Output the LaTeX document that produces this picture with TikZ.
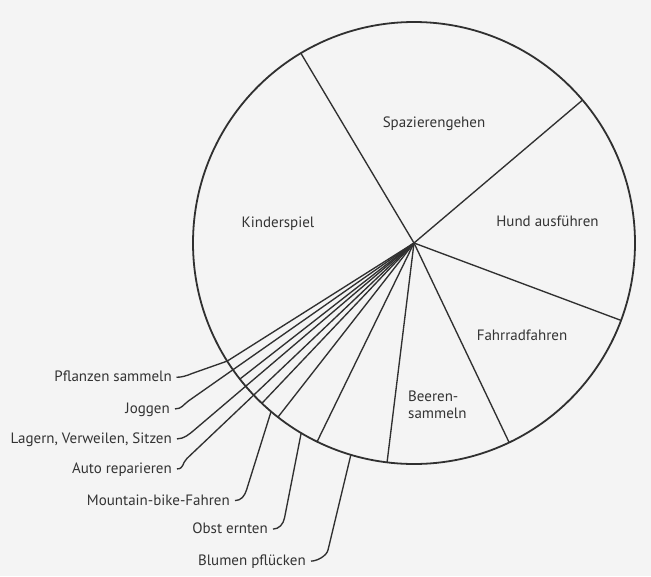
\documentclass[tikz,border=0pt]{standalone}
\usepackage{fontspec}
\setmainfont{PT Sans}
\usetikzlibrary{calc}
\definecolor{ink}{HTML}{303030}
\definecolor{txt}{HTML}{333333}
\definecolor{paper}{HTML}{F4F4F4}
\begin{document}
\begin{tikzpicture}[x=1pt,y=-1pt,
  lbl/.style={text=txt,font=\fontsize{15}{18}\selectfont,inner sep=0pt},
  spoke/.style={draw=ink,line width=1.35pt,line join=round},
  rim/.style={draw=ink,line width=1.8pt}]
\fill[paper] (0,0) rectangle (651,576);
\useasboundingbox (0,0) rectangle (651,576);
\coordinate (C) at (414,243);
\draw[rim] (C) circle[radius=221];
% main slice boundaries
\foreach \a/\n in {-120.8/kb,-40.3/sh,20.5/hf,64.5/fb,97/bb,142/i1,133.5/i2,128/i3,116/i4}{
  \coordinate (\n) at ($(C)+(\a:221)$);
  \draw[spoke] (C) -- (\n);
}
% labels inside
\node[lbl,anchor=base] (spaz) at (434,127) {Spazierengehen};
\node[lbl,anchor=base] (kind) at (278,227.5) {Kinderspiel};
\node[lbl,anchor=base] (hund) at (547.5,226.5) {Hund ausführen};
\node[lbl,anchor=base] (fahr) at (522,340) {Fahrradfahren};
\node[lbl,anchor=base west] (beer1) at (408,401.7) {Beeren-};
\node[lbl,anchor=base west] (beer2) at (408,418.3) {sammeln};
% outside labels
\node[lbl,anchor=base east] (pfl) at (172,381.7) {Pflanzen sammeln};
\node[lbl,anchor=base east] (jog) at (170,413.3) {Joggen};
\node[lbl,anchor=base east] (lag) at (172,443.3) {Lagern, Verweilen, Sitzen};
\node[lbl,anchor=base east] (aut) at (172,473.3) {Auto reparieren};
\node[lbl,anchor=base east] (mtb) at (230,505) {Mountain-bike-Fahren};
\node[lbl,anchor=base east] (obs) at (268,533.5) {Obst ernten};
\node[lbl,anchor=base east] (blu) at (306,565.5) {Blumen pflücken};
% hook ends
\coordinate (hP) at ($(pfl.base east)+(4.5,-4.4)$);
\coordinate (hJ) at ($(jog.base east)+(5,-4.4)$);
\coordinate (hL) at ($(lag.base east)+(5,-4.4)$);
\coordinate (hA) at ($(aut.base east)+(5,-4.4)$);
\coordinate (hM) at ($(mtb.base east)+(5,-4.4)$);
\coordinate (hO) at ($(obs.base east)+(5,-4.4)$);
\coordinate (hB) at ($(blu.base east)+(5,-4.4)$);
% Pflanzen sammeln
\coordinate (pP) at ($(C)+(147.7:221)$);
\draw[spoke] (C) -- (pP) -- (192,373.5) .. controls (187,375.6) and (182,377.3) .. (hP);
% radial leaders
\draw[spoke] (C) -- ($(C)+(145:275)$) .. controls ($(C)+(145:282)$) and ($(hJ)+(7,0)$) .. (hJ);
\draw[spoke] (C) -- ($(C)+(139.6:288)$) .. controls ($(C)+(139.6:295)$) and ($(hL)+(7,0)$) .. (hL);
\draw[spoke] (C) -- ($(C)+(136.5:313)$) .. controls ($(C)+(136.5:320)$) and ($(hA)+(7,0)$) .. (hA);
% leaders from the rim
\coordinate (sM) at ($(C)+(130.3:221)$);
\coordinate (sO) at ($(C)+(120.7:221)$);
\coordinate (sB) at ($(C)+(106.6:221)$);
\draw[spoke] (sM) -- (246.5,490) .. controls (244.7,496) and ($(hM)+(6,0)$) .. (hM);
\draw[spoke] (sO) -- (284.5,518) .. controls (283.4,524) and ($(hO)+(6,0)$) .. (hO);
\draw[spoke] (sB) -- (328,550) .. controls (326.6,556) and ($(hB)+(6,0)$) .. (hB);
\end{tikzpicture}
\end{document}
